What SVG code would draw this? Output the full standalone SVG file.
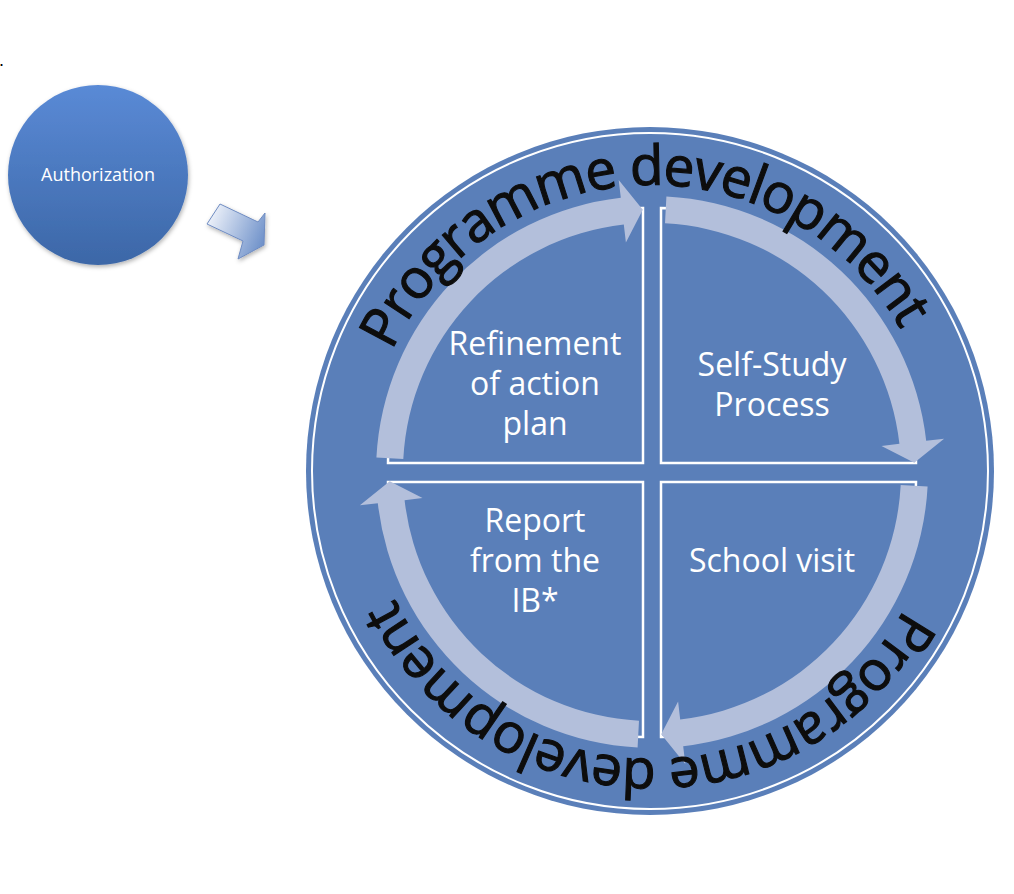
<svg xmlns="http://www.w3.org/2000/svg" xmlns:xlink="http://www.w3.org/1999/xlink" width="1014" height="894" viewBox="0 0 1014 894">
  <style>
    .quad { fill: #5a7fb9; stroke: #ffffff; stroke-width: 2.5; }
    .qlabel { font-family: "Open Sans", "Liberation Sans", sans-serif; font-size: 32px; fill: #ffffff; text-anchor: middle; }
    .ring-text { font-family: "Open Sans", "Liberation Sans", sans-serif; font-size: 55px; letter-spacing: -1.5px; fill: #0d0d0d; stroke: #0d0d0d; stroke-width: 1.1px; text-anchor: middle; }
    .cycle-arrow { fill: #b3bfdb; }
  </style>
  <defs>
    <linearGradient id="authGrad" x1="0" y1="0" x2="0" y2="1">
      <stop offset="0" stop-color="#5a8ad6"/>
      <stop offset="1" stop-color="#3c67a7"/>
    </linearGradient>
    <linearGradient id="blockGrad" x1="207" y1="215" x2="266" y2="240" gradientUnits="userSpaceOnUse">
      <stop offset="0" stop-color="#f3f6fc"/>
      <stop offset="1" stop-color="#6d90c9"/>
    </linearGradient>
    <filter id="soft" x="-20%" y="-20%" width="140%" height="140%">
      <feDropShadow dx="1" dy="2" stdDeviation="2" flood-color="#000" flood-opacity="0.3"/>
    </filter>
    <path id="ringPath" d="M 365 472 A 287 287 0 1 1 939 472 A 287 287 0 1 1 365 472"/>
    <path id="arcArrow" d="M 403.3 459.0 L 376.4 457.6 A 276 276 0 0 1 620.8 197.8 L 618.7 179.9 L 642.8 209.7 L 625.9 242.5 L 623.8 224.6 A 249 249 0 0 0 403.3 459.0 Z"/>
  </defs>

  <text x="-1" y="66" font-family="Liberation Sans, sans-serif" font-size="18" fill="#000">.</text>

  <g id="authorization">
    <circle cx="98" cy="175" r="90" fill="url(#authGrad)" filter="url(#soft)"/>
    <text x="98" y="181" font-family="Open Sans, Liberation Sans, sans-serif" font-size="18" fill="#ffffff" text-anchor="middle">Authorization</text>
  </g>

  <g id="programme-cycle">
    <circle cx="650" cy="471" r="344" fill="#5a7fb9"/>
    <circle cx="650" cy="471" r="338" fill="none" stroke="#ffffff" stroke-width="2"/>
  </g>

  <g id="refinement">
    <path class="quad" d="M 643 463 L 388 463 A 255 255 0 0 1 643 208 Z"/>
    <text class="qlabel" x="535" y="355">Refinement</text>
    <text class="qlabel" x="535" y="395">of action</text>
    <text class="qlabel" x="535" y="435">plan</text>
  </g>

  <g id="self-study">
    <path class="quad" d="M 661 463 L 661 208 A 255 255 0 0 1 916 463 Z"/>
    <text class="qlabel" x="772" y="376">Self-Study</text>
    <text class="qlabel" x="772" y="416">Process</text>
  </g>

  <g id="school-visit">
    <path class="quad" d="M 661 482 L 916 482 A 255 255 0 0 1 661 737 Z"/>
    <text class="qlabel" x="772" y="572">School visit</text>
  </g>

  <g id="report">
    <path class="quad" d="M 643 482 L 643 737 A 255 255 0 0 1 388 482 Z"/>
    <text class="qlabel" x="535" y="532">Report</text>
    <text class="qlabel" x="535" y="572">from the</text>
    <text class="qlabel" x="535" y="612">IB*</text>
  </g>

  <g id="connectors">
    <path d="M 220 204 L 258 222 L 265 213 L 264 245 L 238 259 L 243 241 L 207 224 Z" fill="url(#blockGrad)" stroke="#6f8cc2" stroke-width="1" filter="url(#soft)"/>
    <use xlink:href="#arcArrow" class="cycle-arrow"/>
    <use xlink:href="#arcArrow" class="cycle-arrow" transform="rotate(90 652 472)"/>
    <use xlink:href="#arcArrow" class="cycle-arrow" transform="rotate(180 652 472)"/>
    <use xlink:href="#arcArrow" class="cycle-arrow" transform="rotate(270 652 472)"/>
  </g>

  <g id="ring-labels">
    <text class="ring-text"><textPath xlink:href="#ringPath" startOffset="438">Programme development</textPath></text>
    <text class="ring-text"><textPath xlink:href="#ringPath" startOffset="1357">Programme development</textPath></text>
  </g>
</svg>
